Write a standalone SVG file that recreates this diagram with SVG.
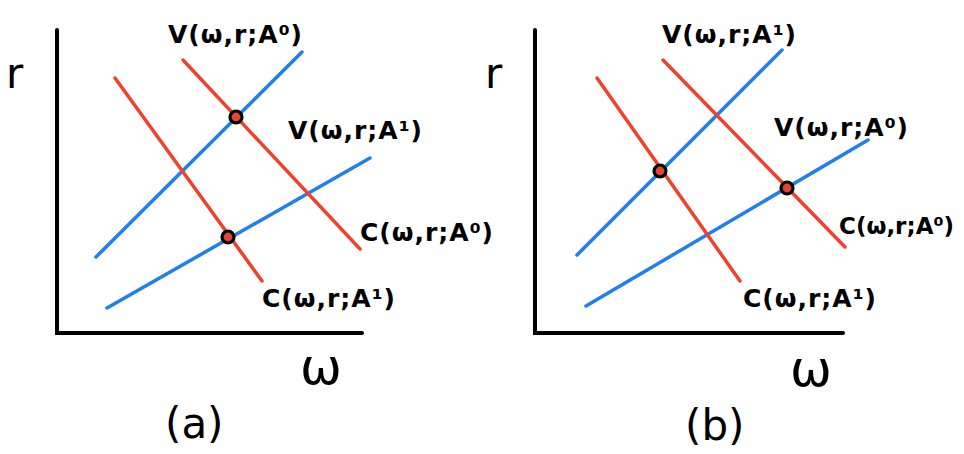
<svg xmlns="http://www.w3.org/2000/svg" width="964" height="454" viewBox="0 0 964 454">
<style>
.ax{stroke:#000;stroke-width:4;fill:none;stroke-linecap:round}
.b{stroke:#1f7ff0;stroke-width:3.5;stroke-linecap:round}
.r{stroke:#f0412d;stroke-width:3.5;stroke-linecap:round}
.pt{fill:#e0443a;stroke:#000;stroke-width:3.2}
.lb{font-family:"DejaVu Sans",sans-serif;font-weight:bold;font-size:25px;letter-spacing:1px;fill:#000}
.big{font-family:"DejaVu Sans",sans-serif;font-size:42px;fill:#000}
.w{font-family:"DejaVu Sans",sans-serif;font-size:50px;fill:#000}
</style>
<rect width="964" height="454" fill="#fff"/>
<g id="panel-a">
<g id="axes-a">
<polyline class="ax" points="57,30 57,333 362,333"/>
<text class="big" x="6" y="88">r</text>
<text class="w" x="300" y="384">ω</text>
<text class="big" x="165" y="438">(a)</text>
</g>
<g id="connectors-a">
<line class="b" x1="96" y1="257" x2="302" y2="52"/>
<line class="b" x1="107" y1="308" x2="370" y2="158"/>
<line class="r" x1="115" y1="78" x2="262" y2="281"/>
<line class="r" x1="183" y1="60" x2="360" y2="249"/>
</g>
<g id="points-a">
<circle class="pt" cx="236" cy="117" r="6"/>
<circle class="pt" cx="228" cy="237" r="6"/>
</g>
<g id="labels-a">
<text class="lb" x="168" y="43">V(ω,r;A⁰)</text>
<text class="lb" x="288" y="139">V(ω,r;A¹)</text>
<text class="lb" x="360" y="241">C(ω,r;A⁰)</text>
<text class="lb" x="262" y="307">C(ω,r;A¹)</text>
</g>
</g>
<g id="panel-b">
<g id="axes-b">
<polyline class="ax" points="535,30 535,333 843,333"/>
<text class="big" x="485" y="88">r</text>
<text class="w" x="790" y="386">ω</text>
<text class="big" x="685" y="440">(b)</text>
</g>
<g id="connectors-b">
<line class="b" x1="577" y1="255" x2="782" y2="50"/>
<line class="b" x1="586" y1="306" x2="868" y2="140"/>
<line class="r" x1="597" y1="78" x2="740" y2="281"/>
<line class="r" x1="663" y1="60" x2="845" y2="247"/>
</g>
<g id="points-b">
<circle class="pt" cx="660" cy="171" r="6"/>
<circle class="pt" cx="787" cy="188" r="6"/>
</g>
<g id="labels-b">
<text class="lb" x="662" y="43">V(ω,r;A¹)</text>
<text class="lb" x="774" y="136">V(ω,r;A⁰)</text>
<text class="lb" x="839" y="234" style="letter-spacing:0;font-size:23px">C(ω,r;A⁰)</text>
<text class="lb" x="743" y="307">C(ω,r;A¹)</text>
</g>
</g>
</svg>
